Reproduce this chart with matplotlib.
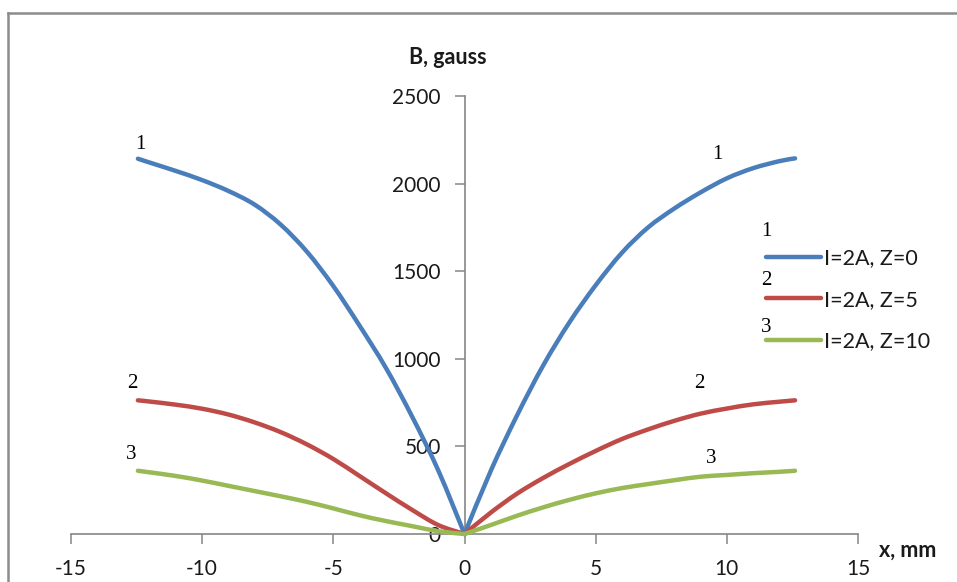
import matplotlib
matplotlib.use("Agg")
import matplotlib.pyplot as plt
from matplotlib.lines import Line2D
from matplotlib.path import Path
from matplotlib.patches import PathPatch

# ---- data ----
x_mm = [-12.45, -12, -11, -10, -9, -8, -7, -6, -5, -4, -3, -2, -1, 0,
        1, 2, 3, 4, 5, 6, 7, 8, 9, 10, 11, 12, 12.6]
b_z0 = [2142, 2120, 2072, 2020, 1958, 1880, 1765, 1610, 1415, 1189, 949, 671, 363, 0,
        360, 676, 962, 1208, 1420, 1605, 1750, 1858, 1950, 2030, 2088, 2128, 2144]
b_z5 = [763, 756, 738, 715, 682, 637, 581, 511, 428, 331, 233, 138, 51, 0,
        122, 230, 320, 400, 474, 542, 597, 646, 687, 716, 740, 755, 763]
b_z10 = [361, 352, 331, 305, 275, 245, 215, 183, 146, 107, 74, 45, 16, 0,
         51, 104, 152, 195, 232, 262, 285, 307, 327, 337, 347, 355, 361]
series_labels = ["I=2A, Z=0", "I=2A, Z=5", "I=2A, Z=10"]
series_colors = ["#4A7EBB", "#BE4B48", "#98B954"]
x_ticks = [-15, -10, -5, 0, 5, 10, 15]
y_ticks = [0, 500, 1000, 1500, 2000, 2500]

plt.rcParams['font.family'] = ['Lato', 'DejaVu Sans']
plt.rcParams['axes.unicode_minus'] = False

fig = plt.figure(figsize=(9.57, 5.82), dpi=100)
ax = fig.add_axes([71/957, 48/582, 787/957, 438/582])
ax.set_xlim(-15, 15)
ax.set_ylim(0, 2500)


def smooth_branch(ax, xs, ys, color):
    """Excel-like smoothed line through the points (Catmull-Rom as Bezier)."""
    n = len(xs)
    verts = [(xs[0], ys[0])]
    codes = [Path.MOVETO]
    for i in range(n - 1):
        p0 = (xs[i - 1], ys[i - 1]) if i > 0 else (xs[i], ys[i])
        p1 = (xs[i], ys[i])
        p2 = (xs[i + 1], ys[i + 1])
        p3 = (xs[i + 2], ys[i + 2]) if i + 2 < n else p2
        c1 = (p1[0] + (p2[0] - p0[0]) / 6, p1[1] + (p2[1] - p0[1]) / 6)
        c2 = (p2[0] - (p3[0] - p1[0]) / 6, p2[1] - (p3[1] - p1[1]) / 6)
        verts += [c1, c2, p2]
        codes += [Path.CURVE4] * 3
    patch = PathPatch(Path(verts, codes), facecolor='none', edgecolor=color,
                      lw=3.2, capstyle='round', joinstyle='round',
                      clip_on=False, zorder=3)
    ax.add_patch(patch)


handles = []
mid = x_mm.index(0)
for ys, lab, col in zip([b_z0, b_z5, b_z10], series_labels, series_colors):
    smooth_branch(ax, x_mm[:mid + 1], ys[:mid + 1], col)
    smooth_branch(ax, x_mm[mid:], ys[mid:], col)
    handles.append(Line2D([], [], color=col, lw=3.2, solid_capstyle='round',
                          label=lab))

axis_col = '#868686'
ax.spines['left'].set_position(('data', 0))
ax.spines['right'].set_visible(False)
ax.spines['top'].set_visible(False)
for s in ('left', 'bottom'):
    ax.spines[s].set_color(axis_col)
    ax.spines[s].set_linewidth(1.2)

ax.set_xticks(x_ticks)
ax.set_yticks(y_ticks)
ax.tick_params(axis='x', direction='out', length=7, width=1.1, color=axis_col,
               labelsize=15, pad=11, labelcolor='#1a1a1a')
ax.tick_params(axis='y', direction='out', length=7, width=1.1, color=axis_col,
               labelsize=15, pad=10, labelcolor='#1a1a1a')

# axis titles
fig.text(448/957, 1 - 57/582, "B, gauss", ha='center', va='center',
         fontsize=15.5, fontweight='bold', color='#1a1a1a')
fig.text(879/957, 1 - 550/582, "x, mm", ha='left', va='center',
         fontsize=15.5, fontweight='bold', color='#1a1a1a')

# curve numbers
serif = ['Liberation Serif', 'DejaVu Serif']
num_pos = [("1", -12.35, 2225), ("1", 9.65, 2165),
           ("2", -12.65, 860), ("2", 8.95, 860),
           ("3", -12.7, 455), ("3", 9.4, 430)]
for t, xx, yy in num_pos:
    ax.text(xx, yy, t, family=serif, fontsize=15, ha='center', va='center',
            color='black')

# legend
leg = fig.legend(handles=handles, labels=series_labels, loc='center left',
                 bbox_to_anchor=(766/957, 1 - 300/582), frameon=False,
                 fontsize=15.5, handlelength=2.55, handletextpad=0.15,
                 labelspacing=1.0, borderpad=0, borderaxespad=0)
for t in leg.get_texts():
    t.set_color('#1a1a1a')
for t, yy in zip(["1", "2", "3"], [232, 280, 328]):
    fig.text(766/957, 1 - yy/582, t, family=serif, fontsize=15,
             ha='center', va='center', color='black')

# outer border (chart area frame)
fig.add_artist(Line2D([8/957, 8/957], [0, 1 - 13/582], color='#8c8c8c',
                      lw=1.8, transform=fig.transFigure))
fig.add_artist(Line2D([8/957, 1], [1 - 13/582, 1 - 13/582], color='#8c8c8c',
                      lw=1.8, transform=fig.transFigure))

fig.savefig("out.png", dpi=100)
